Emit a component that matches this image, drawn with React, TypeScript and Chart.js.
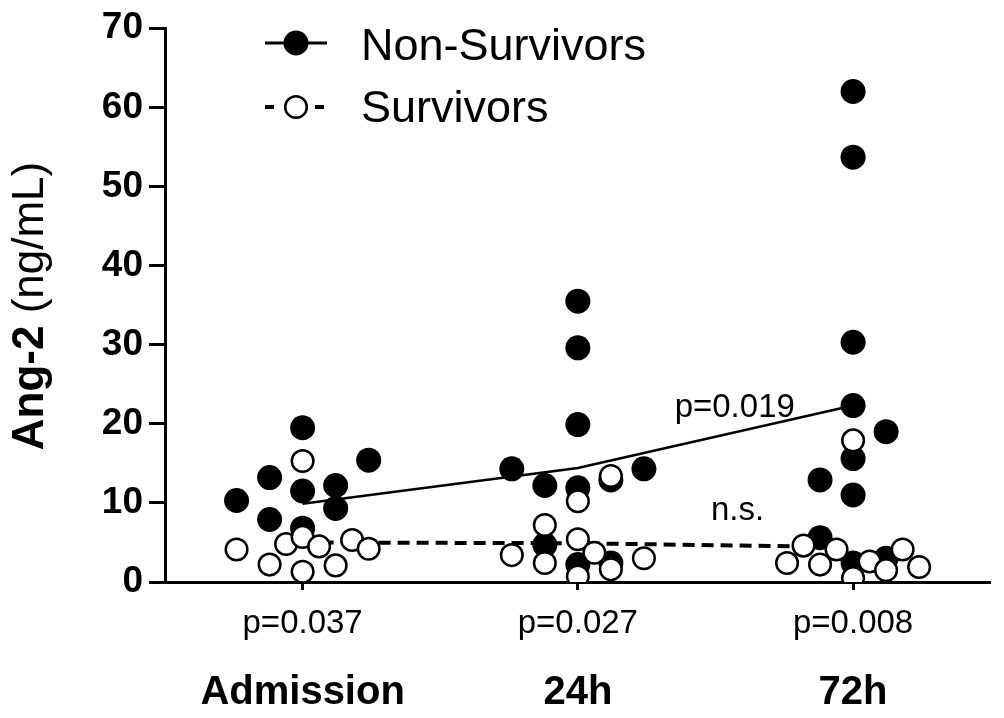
import React, { useEffect, useRef } from "react";
import { Chart, registerables } from "chart.js";

Chart.register(...registerables);

const FAMILY = "'Liberation Sans', Arial, Helvetica, sans-serif";

const categories = ["Admission", "24h", "72h"];
const groupPValues = ["p=0.037", "p=0.027", "p=0.008"];
const yTickValues = [0, 10, 20, 30, 40, 50, 60, 70];
const trendLabels = ["p=0.019", "n.s."];
const seriesNames = ["Non-Survivors", "Survivors"];
const yTitleBold = "Ang-2";
const yTitleNormal = " (ng/mL)";

// Non-survivors: x = group index + horizontal scatter offset, y = Ang-2 (ng/mL)
const nonSurvivorX = [
  0, 0.24, -0.12, 0, 0.12, -0.24, 0.12, -0.12, 0,
  1, 1, 1, 0.76, 1.24, 0.88, 1, 1.12, 0.88, 1, 1.12,
  2, 2, 2, 2, 2.12, 2, 1.88, 2, 1.88, 2, 2.12,
];
const nonSurvivorY = [
  19.5, 15.4, 13.2, 11.5, 12.2, 10.3, 9.3, 7.9, 6.8,
  35.5, 29.6, 19.9, 14.3, 14.3, 12.2, 11.9, 12.9, 4.7, 2.2, 2.4,
  62.0, 53.7, 30.3, 22.3, 19.0, 15.6, 12.9, 11.0, 5.6, 2.4, 3.0,
];

// Survivors
const survivorX = [
  0, -0.24, -0.06, 0, 0.06, 0.18, 0.24, -0.12, 0, 0.12,
  1.12, 1, 0.88, 1, 0.76, 1.06, 0.88, 1.12, 1, 1.24,
  2, 1.82, 1.76, 1.88, 1.94, 2, 2.06, 2.12, 2.18, 2.24,
];
const survivorY = [
  15.3, 4.1, 4.8, 5.7, 4.5, 5.3, 4.2, 2.2, 1.3, 2.1,
  13.4, 10.2, 7.2, 5.4, 3.4, 3.7, 2.4, 1.6, 0.7, 3.0,
  17.9, 4.6, 2.4, 2.2, 4.1, 0.5, 2.6, 1.5, 4.1, 1.9,
];

// Group mean lines
const nonSurvivorMeans = [9.9, 14.4, 22.3];
const survivorMeans = [5.0, 4.9, 4.4];

const overlayPlugin = {
  id: "overlay",
  afterDraw(chart: any) {
    const { ctx, scales } = chart;
    const xs = scales.x;
    const ys = scales.y;
    ctx.save();
    ctx.fillStyle = "#000";
    ctx.strokeStyle = "#000";

    // p-values under each group
    ctx.font = `33px ${FAMILY}`;
    ctx.textAlign = "center";
    ctx.textBaseline = "alphabetic";
    groupPValues.forEach((t, i) => {
      ctx.fillText(t, xs.getPixelForValue(i), 633);
    });

    // trend annotations
    ctx.fillText(trendLabels[0], xs.getPixelForValue(1.57), ys.getPixelForValue(20.9));
    ctx.fillText(trendLabels[1], xs.getPixelForValue(1.58), ys.getPixelForValue(7.8));

    // y-axis title (bold + normal)
    ctx.save();
    ctx.translate(43, 306);
    ctx.rotate(-Math.PI / 2);
    ctx.textAlign = "left";
    ctx.font = `bold 44px ${FAMILY}`;
    const wb = ctx.measureText(yTitleBold).width;
    ctx.font = `44px ${FAMILY}`;
    const wn = ctx.measureText(yTitleNormal).width;
    const start = -(wb + wn) / 2;
    ctx.font = `bold 44px ${FAMILY}`;
    ctx.fillText(yTitleBold, start, 0);
    ctx.font = `44px ${FAMILY}`;
    ctx.fillText(yTitleNormal, start + wb, 0);
    ctx.restore();

    // legend
    ctx.lineWidth = 3;
    ctx.beginPath();
    ctx.moveTo(265, 43);
    ctx.lineTo(327, 43);
    ctx.stroke();
    ctx.beginPath();
    ctx.arc(296, 43, 12.5, 0, Math.PI * 2);
    ctx.fill();

    ctx.lineWidth = 4;
    ctx.beginPath();
    ctx.moveTo(265, 107);
    ctx.lineTo(274, 107);
    ctx.moveTo(315, 107);
    ctx.lineTo(324, 107);
    ctx.stroke();
    ctx.beginPath();
    ctx.arc(296, 107, 10.8, 0, Math.PI * 2);
    ctx.fillStyle = "#fff";
    ctx.fill();
    ctx.lineWidth = 2.5;
    ctx.stroke();

    ctx.fillStyle = "#000";
    ctx.font = `45px ${FAMILY}`;
    ctx.textAlign = "left";
    ctx.fillText(seriesNames[0], 361, 60);
    ctx.fillText(seriesNames[1], 361, 122);

    ctx.restore();
  },
};

export default function App() {
  const ref = useRef<HTMLCanvasElement>(null);

  useEffect(() => {
    document.body.style.margin = "0";
    const canvas = ref.current;
    if (!canvas) return;

    const nsPoints = nonSurvivorX.map((x, i) => ({ x, y: nonSurvivorY[i] }));
    const sPoints = survivorX.map((x, i) => ({ x, y: survivorY[i] }));
    const nsMean = nonSurvivorMeans.map((y, i) => ({ x: i, y }));
    const sMean = survivorMeans.map((y, i) => ({ x: i, y }));

    const chart = new Chart(canvas, {
      type: "scatter",
      data: {
        datasets: [
          {
            label: seriesNames[1],
            data: sPoints,
            pointRadius: 10.8,
            pointBackgroundColor: "#fff",
            pointBorderColor: "#000",
            pointBorderWidth: 2.5,
            showLine: false,
            order: 0,
          } as any,
          {
            label: seriesNames[0],
            data: nsPoints,
            pointRadius: 12.5,
            pointBackgroundColor: "#000",
            pointBorderColor: "#000",
            pointBorderWidth: 0,
            showLine: false,
            order: 1,
          } as any,
          {
            type: "line",
            label: seriesNames[0] + " mean",
            data: nsMean,
            borderColor: "#000",
            borderWidth: 2.5,
            pointRadius: 0,
            fill: false,
            tension: 0,
            order: 2,
          } as any,
          {
            type: "line",
            label: seriesNames[1] + " mean",
            data: sMean,
            borderColor: "#000",
            borderWidth: 4,
            borderDash: [12, 7],
            pointRadius: 0,
            fill: false,
            tension: 0,
            order: 3,
          } as any,
        ],
      },
      options: {
        responsive: false,
        animation: false,
        events: [],
        layout: { padding: { top: 28, right: 9, left: 0, bottom: 0 } },
        plugins: {
          legend: { display: false },
          tooltip: { enabled: false },
        },
        scales: {
          x: {
            type: "linear",
            min: -0.5,
            max: 2.5,
            afterBuildTicks: (s: any) => {
              s.ticks = categories.map((_, i) => ({ value: i }));
            },
            afterFit: (s: any) => {
              s.height = 136;
            },
            ticks: {
              callback: (v: any) => categories[Math.round(Number(v))] ?? "",
              font: { family: FAMILY, size: 40, weight: "bold" },
              color: "#000",
              padding: 79,
              maxRotation: 0,
              autoSkip: false,
            },
            grid: {
              drawOnChartArea: false,
              drawTicks: true,
              tickLength: 8,
              tickWidth: 3,
              tickColor: "#000",
            },
            border: { display: true, color: "#000", width: 3 },
          },
          y: {
            type: "linear",
            min: 0,
            max: 70,
            afterBuildTicks: (s: any) => {
              s.ticks = yTickValues.map((v) => ({ value: v }));
            },
            afterFit: (s: any) => {
              s.width = 165;
            },
            ticks: {
              font: { family: FAMILY, size: 37, weight: "bold" },
              color: "#000",
              padding: 6,
            },
            grid: {
              drawOnChartArea: false,
              drawTicks: true,
              tickLength: 16,
              tickWidth: 3,
              tickColor: "#000",
            },
            border: { display: true, color: "#000", width: 3 },
          },
        },
      } as any,
      plugins: [overlayPlugin],
    });

    return () => chart.destroy();
  }, []);

  return (
    <div style={{ width: 1004, height: 718, background: "#fff" }}>
      <canvas ref={ref} width={1004} height={718} style={{ display: "block" }} />
    </div>
  );
}
